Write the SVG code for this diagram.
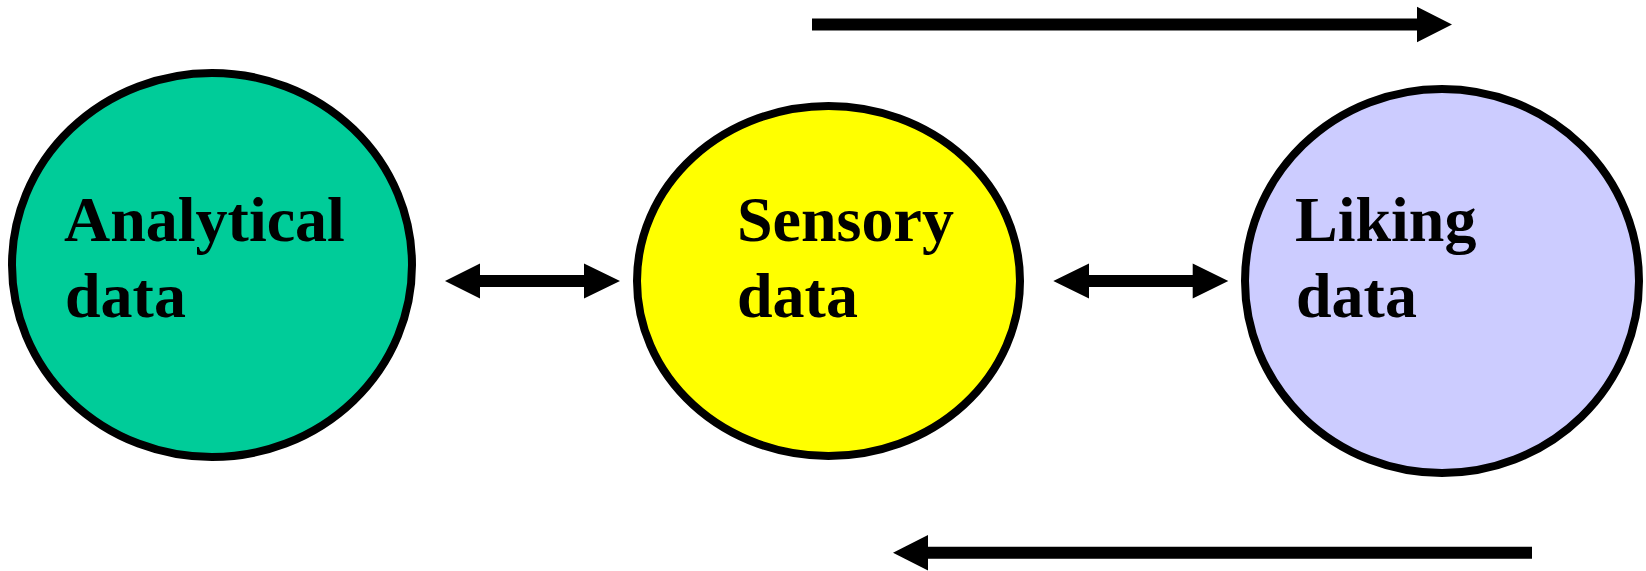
<svg xmlns="http://www.w3.org/2000/svg" width="1646" height="571" viewBox="0 0 1646 571">
  <style>
    .node { stroke: #000000; stroke-width: 8; }
    .label { font-family: "Liberation Serif", "Times New Roman", serif; font-weight: bold; font-size: 64px; fill: #000000; }
    .arrow { fill: #000000; stroke: none; }
  </style>
  <rect x="0" y="0" width="1646" height="571" fill="#ffffff"/>
  <g id="node-analytical">
    <ellipse class="node" cx="212" cy="265" rx="200" ry="192" fill="#00CC99"/>
    <text class="label" x="64" y="241">Analytical</text>
    <text class="label" x="65" y="317">data</text>
  </g>
  <g id="node-sensory">
    <ellipse class="node" cx="828.5" cy="281" rx="191.5" ry="175" fill="#FFFF00"/>
    <text class="label" x="737" y="241">Sensory</text>
    <text class="label" x="737" y="317">data</text>
  </g>
  <g id="node-liking">
    <ellipse class="node" cx="1442" cy="281" rx="197" ry="192" fill="#CCCCFF"/>
    <text class="label" x="1295" y="241">Liking</text>
    <text class="label" x="1296" y="317">data</text>
  </g>
  <g id="connectors">
    <polygon class="arrow" points="812,18.5 1417,18.5 1417,6.7 1452,24.5 1417,42.3 1417,30.5 812,30.5"/>
    <polygon class="arrow" points="893,552.8 928,535 928,546.8 1532,546.8 1532,558.8 928,558.8 928,570.5"/>
    <polygon class="arrow" points="445,281 480,263.5 480,275 584,275 584,263.5 620,281 584,298.5 584,287 480,287 480,298.5"/>
    <polygon class="arrow" points="1053.3,281 1089,263.5 1089,275 1192.7,275 1192.7,263.5 1228.3,281 1192.7,298.5 1192.7,287 1089,287 1089,298.5"/>
  </g>
</svg>
